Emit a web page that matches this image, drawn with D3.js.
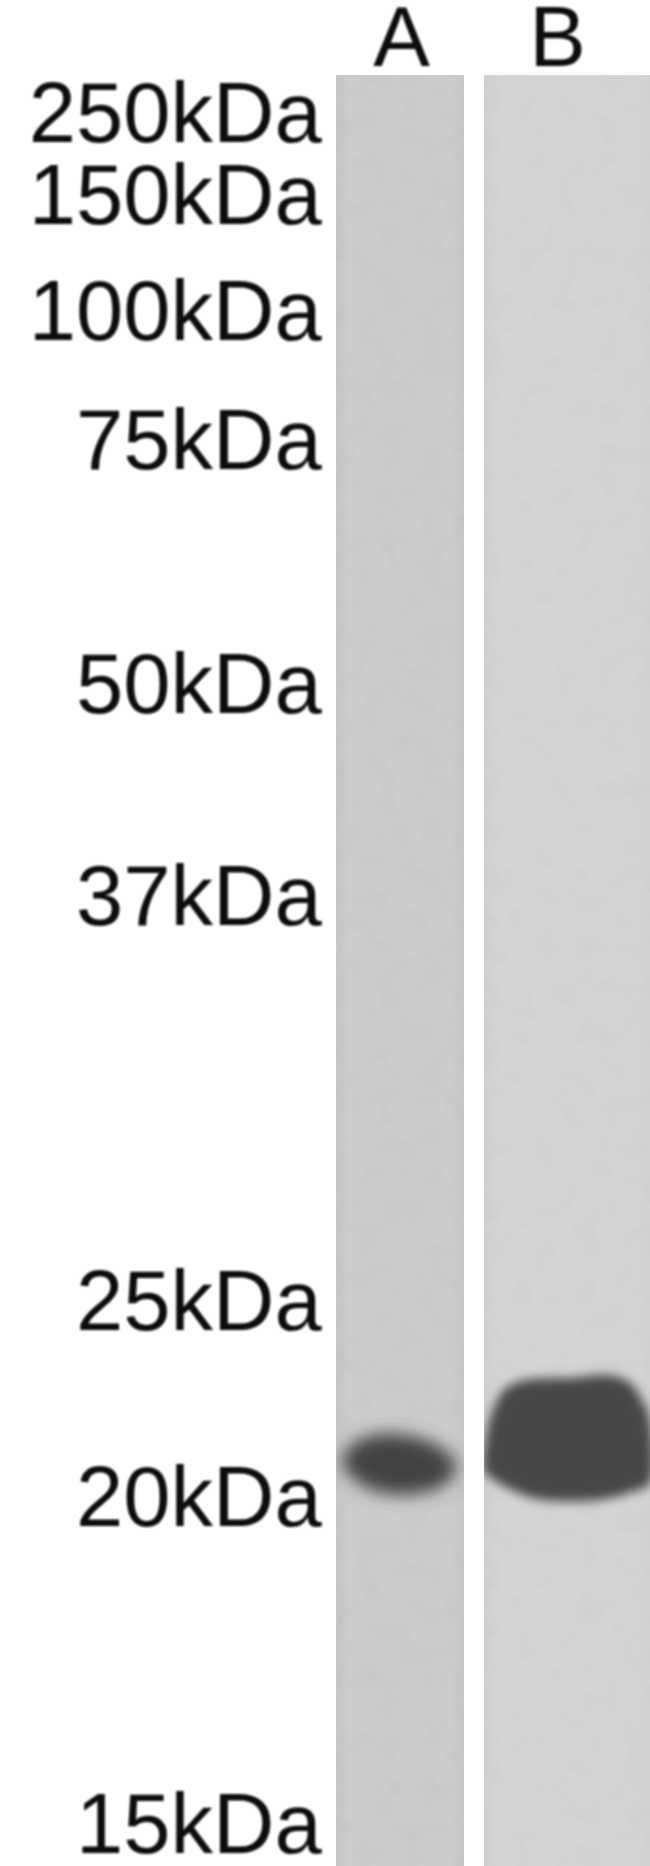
<!DOCTYPE html>
<html>
<head>
<meta charset="utf-8">
<script src="https://cdn.jsdelivr.net/npm/d3@7/dist/d3.min.js"></script>
<style>
html,body{margin:0;padding:0;background:#fff}
svg{display:block}
text{font-family:"Liberation Sans",Arial,sans-serif;fill:#0c0c0c}
</style>
</head>
<body>
<div id="chart"></div>
<script>
// Marker ladder: size label and migration position (% of figure height, label baseline)
const markerLabels = ["250kDa","150kDa","100kDa","75kDa","50kDa","37kDa","25kDa","20kDa","15kDa"];
const markerPositions = [7.6,12.0,18.2,25.15,38.2,49.55,71.3,81.8,99.3];

// Lanes (all in % of figure width / height)
const laneNames = ["A","B"];
const laneLeft = [51.7,74.45];
const laneRight = [71.4,100];
const laneTop = 4.02;
const laneBottom = 100;
const laneLabelCentre = [61.8,85.8];
const laneLabelBaseline = 3.55;
const laneShades = [["#c5c5c5","#cccccc","#cccccc","#c7c7c7"],["#cfcfcf","#d5d5d5","#d4d4d4","#d2d2d2"]];

// Band outlines in lane A and B: x = % of width, y = % of height
const bandAx = [52.6,55.0,59.5,63.8,68.2,70.2,69.4,65.8,61,56.6,53.9];
const bandAy = [78.25,77.2,76.85,77.0,77.65,78.5,79.3,79.95,80.1,79.75,79.1];
const bandBx = [74.45,75.6,77.8,81.0,87.7,93.6,96.9,98.9,100,100,97.2,92.9,87.7,82.4,78.2,74.45];
const bandBy = [77.9,75.8,74.4,73.95,73.85,73.7,74.1,75.1,76.1,79.5,79.95,80.35,80.45,80.3,79.75,78.8];
const bandShades = ["#424242","#474747"];

const W = 650, H = 1866;
const x = d3.scaleLinear().domain([0,100]).range([0,W]);
const y = d3.scaleLinear().domain([0,100]).range([0,H]);

const svg = d3.select("#chart").append("svg").attr("width",W).attr("height",H).attr("viewBox",[0,0,W,H]);
const defs = svg.append("defs");

const soft = defs.append("filter").attr("id","textBlur").attr("x","-5%").attr("y","-20%").attr("width","110%").attr("height","140%");
soft.append("feGaussianBlur").attr("stdDeviation",1.0);

[["bandBlurA",8.5],["bandBlurB",5.5]].forEach(([id,s])=>{
  const f = defs.append("filter").attr("id",id).attr("x","-30%").attr("y","-50%").attr("width","160%").attr("height","200%");
  f.append("feGaussianBlur").attr("stdDeviation",s);
});

const mottle = defs.append("filter").attr("id","mottle").attr("x",0).attr("y",0).attr("width","100%").attr("height","100%");
mottle.append("feTurbulence").attr("type","fractalNoise").attr("baseFrequency",0.045).attr("numOctaves",3).attr("seed",7);
mottle.append("feColorMatrix").attr("type","matrix").attr("values","0 0 0 0 0  0 0 0 0 0  0 0 0 0 0  0.5 0 0 0 -0.2");

laneNames.forEach((n,i)=>{
  const g = defs.append("linearGradient").attr("id","lane"+n);
  g.selectAll("stop").data(laneShades[i]).join("stop")
    .attr("offset",(d,j)=>[0,0.1,0.9,1][j]).attr("stop-color",d=>d);
  defs.append("clipPath").attr("id","clip"+n).append("rect")
    .attr("x",x(laneLeft[i])).attr("y",y(laneTop))
    .attr("width",x(laneRight[i])-x(laneLeft[i])).attr("height",y(laneBottom)-y(laneTop));
});

// lanes
const lanes = svg.selectAll("g.lane").data(laneNames).join("g").attr("class","lane")
  .attr("clip-path",d=>`url(#clip${d})`);
lanes.append("rect")
  .attr("x",(d,i)=>x(laneLeft[i])).attr("y",y(laneTop))
  .attr("width",(d,i)=>x(laneRight[i])-x(laneLeft[i])).attr("height",y(laneBottom)-y(laneTop))
  .attr("fill",d=>`url(#lane${d})`);
lanes.append("rect")
  .attr("x",(d,i)=>x(laneLeft[i])).attr("y",y(laneTop))
  .attr("width",(d,i)=>x(laneRight[i])-x(laneLeft[i])).attr("height",y(laneBottom)-y(laneTop))
  .attr("filter","url(#mottle)").attr("opacity",0.07);

// bands
const outline = d3.line().x(p=>x(p[0])).y(p=>y(p[1])).curve(d3.curveCatmullRomClosed.alpha(0.5));
const bands = [d3.zip(bandAx,bandAy), d3.zip(bandBx,bandBy)];
lanes.append("path")
  .attr("d",(d,i)=>outline(bands[i]))
  .attr("fill",(d,i)=>bandShades[i])
  .attr("filter",d=>`url(#bandBlur${d})`);

// marker labels
svg.append("g").attr("filter","url(#textBlur)")
  .selectAll("text").data(markerLabels).join("text")
  .attr("x",x(49.5)).attr("y",(d,i)=>y(markerPositions[i]))
  .attr("text-anchor","end").attr("font-size",85).text(d=>d);

// lane labels
svg.append("g").attr("filter","url(#textBlur)")
  .selectAll("text").data(laneNames).join("text")
  .attr("x",(d,i)=>x(laneLabelCentre[i])).attr("y",y(laneLabelBaseline))
  .attr("text-anchor","middle").attr("font-size",85).text(d=>d);
</script>
</body>
</html>
